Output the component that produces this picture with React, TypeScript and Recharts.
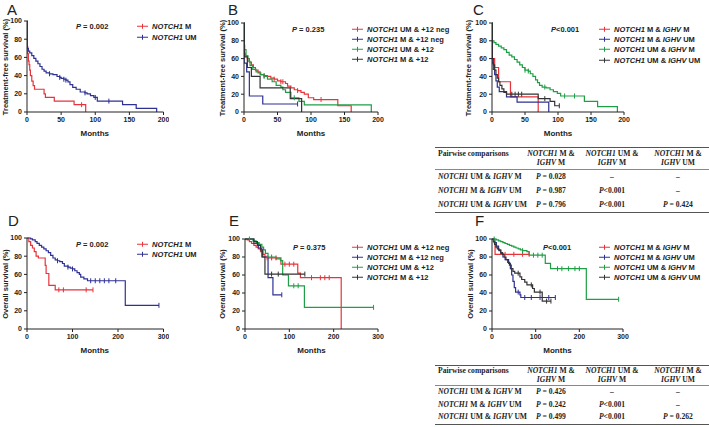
import React from 'react';
import { LineChart, Line, XAxis, YAxis } from 'recharts';

// each point: [months, survival %, 1 if censored]
type Pt = number[];

const tfsTicks = [0, 50, 100, 150, 200];
const osTicks = [0, 100, 200, 300];
const pctTicks = [0, 20, 40, 60, 80, 100];

const namesA = ['NOTCH1 M', 'NOTCH1 UM'];
const namesB = ['NOTCH1 UM & +12 neg', 'NOTCH1 M & +12 neg', 'NOTCH1 UM & +12', 'NOTCH1 M & +12'];
const namesC = ['NOTCH1 M & IGHV M', 'NOTCH1 M & IGHV UM', 'NOTCH1 UM & IGHV M', 'NOTCH1 UM & IGHV UM'];

// A - treatment-free survival
const aMut: Pt[] = [[0, 100], [0.3, 72], [1, 64], [2, 56], [3, 52], [4, 46], [5, 40], [7, 34], [9, 29], [11, 25], [25, 20], [27, 16], [40, 12], [69, 8], [80, 8, 1], [86, 0]];
const aUnm: Pt[] = [[0, 100], [0.3, 70], [2, 67], [4, 65], [7, 62], [10, 59], [13, 56], [16, 53], [19, 50], [22, 47], [25, 45], [28, 43], [33, 42, 1], [38, 41], [44, 39], [48, 38, 1], [50, 37], [54, 36, 1], [57, 35, 1], [60, 33], [63, 30], [67, 27], [72, 25], [78, 22], [85, 21, 1], [88, 20], [93, 18], [98, 16], [100, 16, 1], [103, 12], [120, 12, 1], [140, 8], [160, 4], [190, 0]];

// B
const bUmNeg: Pt[] = [[0, 100], [0.3, 66], [2, 63], [5, 60], [8, 56], [11, 53], [14, 50], [17, 47], [21, 44], [25, 42], [30, 41, 1], [35, 40], [40, 38], [45, 37, 1], [50, 35], [55, 34, 1], [58, 34, 1], [62, 32], [65, 29], [70, 27], [75, 25], [80, 24, 1], [85, 22], [90, 20], [96, 16], [104, 14], [115, 14, 1], [140, 7], [160, 0]];
const bMNeg: Pt[] = [[0, 100], [0.3, 55], [4, 45], [8, 18], [28, 9], [80, 9, 1]];
const bUmPos: Pt[] = [[0, 100], [0.3, 75], [1, 70], [3, 63], [6, 57], [9, 52], [13, 48], [18, 45], [24, 42], [30, 40, 1], [35, 37], [42, 34], [48, 30], [55, 28], [58, 25], [62, 22], [70, 16], [75, 16, 1], [82, 12], [90, 8], [190, 0]];
const bMPos: Pt[] = [[0, 100], [0.3, 62], [5, 50], [11, 40], [24, 27], [69, 15], [86, 0]];

// C
const cMM: Pt[] = [[0, 100], [0.3, 60], [4, 50], [10, 34], [28, 17], [70, 0]];
const cMUm: Pt[] = [[0, 100], [0.3, 55], [2, 48], [4, 42], [6, 35], [8, 28], [11, 23], [22, 17], [38, 11], [86, 0]];
const cUmM: Pt[] = [[0, 100], [0.3, 80], [3, 78], [6, 76], [10, 74], [14, 72], [18, 70], [22, 67], [26, 64], [30, 62], [34, 59], [38, 56], [42, 53], [46, 50], [50, 47, 1], [52, 47], [55, 46, 1], [58, 43], [62, 40], [66, 36], [69, 33], [72, 30], [76, 28], [80, 28, 1], [82, 27], [88, 25], [93, 23], [99, 21], [104, 18], [110, 18, 1], [125, 18, 1], [140, 12], [160, 6], [190, 0]];
const cUmUm: Pt[] = [[0, 100], [0.3, 60], [2, 53], [4, 47], [6, 42], [8, 38], [10, 34], [12, 30], [15, 26], [18, 22], [22, 20], [30, 20, 1], [35, 20, 1], [40, 20, 1], [45, 20, 1], [70, 15], [80, 15, 1], [88, 12], [95, 7], [102, 7, 1]];

// D - overall survival
const dMut: Pt[] = [[0, 100], [4, 96], [8, 92], [12, 89], [16, 85], [20, 80], [25, 78], [40, 70], [42, 61], [48, 48], [62, 43], [70, 43, 1], [80, 43, 1], [130, 43, 1], [145, 43, 1]];
const dUnm: Pt[] = [[0, 100], [8, 99], [12, 98], [18, 96], [22, 94], [27, 92], [32, 90], [37, 88], [42, 86], [47, 84], [52, 81], [57, 78], [62, 76], [67, 75, 1], [72, 74], [78, 72], [82, 69], [90, 68, 1], [95, 67], [100, 66, 1], [105, 64], [110, 62], [115, 60], [118, 57], [125, 55], [133, 53], [140, 53, 1], [150, 53, 1], [160, 53, 1], [170, 53, 1], [180, 53, 1], [195, 53, 1], [216, 26], [290, 26, 1]];

// E
const eUmNeg: Pt[] = [[0, 100], [5, 99], [10, 97], [15, 95], [20, 93], [25, 91], [30, 89], [35, 86], [40, 83], [45, 80], [50, 79, 1], [60, 79, 1], [70, 79, 1], [81, 72], [90, 72, 1], [100, 72, 1], [110, 72, 1], [119, 62], [125, 57], [150, 57, 1], [170, 57, 1], [180, 57, 1], [190, 57, 1], [217, 0]];
const eMNeg: Pt[] = [[0, 100], [20, 95], [30, 90], [38, 80], [52, 57], [63, 38], [83, 38, 1]];
const eUmPos: Pt[] = [[0, 100], [10, 100, 1], [18, 98], [25, 96], [32, 94], [38, 91], [42, 88], [46, 84], [52, 80], [60, 80, 1], [70, 78], [80, 76], [85, 60], [98, 48], [110, 48, 1], [120, 48, 1], [134, 24], [290, 24, 1]];
const eMPos: Pt[] = [[0, 100], [20, 97], [28, 93], [35, 88], [40, 80], [45, 61], [60, 61, 1], [75, 61, 1], [135, 61, 1]];

// F
const fMM: Pt[] = [[0, 100], [7, 83], [30, 83, 1], [50, 83, 1], [70, 83, 1], [85, 83, 1]];
const fMUm: Pt[] = [[0, 100], [5, 96], [10, 92], [15, 88], [20, 84], [25, 80], [30, 77], [38, 73], [42, 67], [45, 60], [48, 53], [51, 46], [54, 41], [60, 41, 1], [64, 38], [66, 35], [75, 35, 1], [90, 35, 1], [110, 35, 1], [130, 35, 1], [145, 35, 1]];
const fUmM: Pt[] = [[0, 100], [5, 100, 1], [10, 99], [15, 98], [20, 97], [25, 96], [30, 95], [35, 94], [40, 93], [45, 92], [50, 91], [55, 90], [60, 89], [65, 88], [70, 87, 1], [75, 87], [80, 86], [85, 82], [95, 82, 1], [105, 82, 1], [115, 82, 1], [122, 73], [134, 67], [150, 67, 1], [160, 67, 1], [175, 67, 1], [190, 67, 1], [200, 67, 1], [216, 33], [290, 33, 1]];
const fUmUm: Pt[] = [[0, 100], [3, 97], [6, 94], [9, 91], [12, 89], [16, 87], [20, 85], [24, 83], [28, 80], [32, 77], [36, 74], [40, 71], [44, 67], [48, 64], [52, 62], [60, 62, 1], [64, 58], [68, 55], [75, 52], [80, 49], [90, 49, 1], [93, 45], [97, 41], [110, 41, 1], [115, 31], [125, 31, 1], [135, 31, 1]];

const tableHead = ['NOTCH1 M &|IGHV M', 'NOTCH1 UM &|IGHV M', 'NOTCH1 M &|IGHV UM'];
const tableRowNames = ['NOTCH1 UM & IGHV M', 'NOTCH1 M & IGHV UM', 'NOTCH1 UM & IGHV UM'];
const tableTfs = [['P = 0.028', '–', '–'], ['P = 0.987', 'P<0.001', '–'], ['P = 0.796', 'P<0.001', 'P = 0.424']];
const tableOs = [['P = 0.426', '–', '–'], ['P = 0.242', 'P<0.001', '–'], ['P = 0.499', 'P<0.001', 'P = 0.262']];

const RED = '#e8333a';
const BLUE = '#2e3192';
const GREEN = '#1f9e45';
const BLACK = '#333333';
const colors4 = [RED, BLUE, GREEN, BLACK];
const SANS = '"Liberation Sans", Arial, sans-serif';
const SERIF = '"Liberation Serif", "Times New Roman", serif';

const toRows = (pts: Pt[]) => pts.map(p => ({ t: p[0], s: p[1], c: p[2] || 0 }));

// italic gene / stat names
const fmt = (s: string) =>
  s.split(/(NOTCH1|IGHV|P)/).map((part, i) =>
    part === 'NOTCH1' || part === 'IGHV' || part === 'P' ? <i key={i}>{part}</i> : <span key={i}>{part}</span>
  );

const censor = (color: string) => (p: any) =>
  p.payload && p.payload.c ? (
    <line key={`c${p.index}`} x1={p.cx} x2={p.cx} y1={p.cy - 2.5} y2={p.cy + 2.5} stroke={color} strokeWidth={1} />
  ) : (
    <g key={`n${p.index}`} />
  );

interface PanelProps {
  letter: string; letterX: number; letterY: number;
  l: number; t: number; r: number; b: number;
  xMax: number; xTicks: number[];
  yLabel: string; yLabelX: number;
  series: Pt[][]; names: string[]; colors: string[];
  pText: string; pX: number; pY: number;
  legX: number; legY: number[];
}

function Panel(p: PanelProps) {
  const padL = 30, padT = 6, padR = 6, xh = 18;
  const axisStyle = { fontSize: 7, fill: '#222', fontWeight: 'bold', fontFamily: SANS };
  const textBase: React.CSSProperties = { position: 'absolute', whiteSpace: 'nowrap', fontFamily: SANS, fontWeight: 'bold', fontSize: 7.5, color: '#222' };
  return (
    <>
      <div style={{ position: 'absolute', left: p.letterX, top: p.letterY, fontFamily: SANS, fontSize: 15, color: '#222', lineHeight: 1 }}>
        {p.letter}
      </div>
      <div style={{ position: 'absolute', left: p.l - padL, top: p.t - padT }}>
        <LineChart width={p.r - p.l + padL + padR} height={p.b - p.t + padT + xh} margin={{ top: padT, right: padR, bottom: 0, left: 0 }}>
          <XAxis type="number" dataKey="t" domain={[0, p.xMax]} ticks={p.xTicks} interval={0} height={xh}
            tick={axisStyle} tickSize={3} tickMargin={2} stroke="#222" allowDataOverflow />
          <YAxis type="number" domain={[0, 100]} ticks={pctTicks} interval={0} width={padL}
            tick={axisStyle} tickSize={3} tickMargin={2} stroke="#222" />
          {p.series.map((pts, i) => (
            <Line key={i} data={toRows(pts)} dataKey="s" type="stepAfter" stroke={p.colors[i]} strokeWidth={1.2}
              dot={censor(p.colors[i])} activeDot={false} isAnimationActive={false} />
          ))}
        </LineChart>
      </div>
      <div style={{ ...textBase, left: p.yLabelX, top: (p.t + p.b) / 2, transform: 'translate(-50%, -50%) rotate(-90deg)' }}>
        {p.yLabel}
      </div>
      <div style={{ ...textBase, fontSize: 8, left: (p.l + p.r) / 2, top: p.b + 21, transform: 'translate(-50%, -50%)' }}>
        Months
      </div>
      <div style={{ ...textBase, left: p.pX, top: p.pY, transform: 'translateY(-50%)' }}>
        {fmt(p.pText)}
      </div>
      {p.names.map((n, i) => (
        <div key={n} style={{ ...textBase, left: p.legX, top: p.legY[i], transform: 'translateY(-50%)', lineHeight: '9px' }}>
          <svg width={11} height={6} style={{ marginRight: 4, verticalAlign: 'middle' }}>
            <line x1={0} x2={11} y1={3} y2={3} stroke={p.colors[i]} strokeWidth={1.2} />
            <line x1={5.5} x2={5.5} y1={0.5} y2={5.5} stroke={p.colors[i]} strokeWidth={1} />
          </svg>
          <span style={{ verticalAlign: 'middle' }}>{fmt(n)}</span>
        </div>
      ))}
    </>
  );
}

function PairTable({ top, rows, headH, headPad, rowH }: { top: number; rows: string[][]; headH: number; headPad: number; rowH: number }) {
  const cell: React.CSSProperties = { padding: 0, textAlign: 'center', height: rowH, verticalAlign: 'middle', whiteSpace: 'nowrap' };
  const widths = [90, 52, 70, 62];
  return (
    <table style={{ position: 'absolute', left: 435, top, width: 274, borderCollapse: 'collapse', tableLayout: 'fixed', fontFamily: SERIF, fontWeight: 'bold', fontSize: 7.6, color: '#222', lineHeight: '8.5px' }}>
      <colgroup>{widths.map((w, i) => <col key={i} style={{ width: w }} />)}</colgroup>
      <thead>
        <tr style={{ borderTop: '1.5px solid #555', borderBottom: '0.8px solid #888' }}>
          <th style={{ textAlign: 'left', paddingLeft: 3, verticalAlign: 'top', paddingTop: headPad, height: headH - headPad, boxSizing: 'content-box', whiteSpace: 'nowrap' }}>Pairwise comparisons</th>
          {tableHead.map(h => (
            <th key={h} style={{ verticalAlign: 'top', paddingTop: headPad, fontWeight: 'bold', whiteSpace: 'nowrap' }}>
              {h.split('|').map((ln, j) => <div key={j}>{fmt(ln)}</div>)}
            </th>
          ))}
        </tr>
      </thead>
      <tbody>
        {rows.map((r, i) => (
          <tr key={i} style={i === rows.length - 1 ? { borderBottom: '1.5px solid #555' } : undefined}>
            <td style={{ ...cell, textAlign: 'left', paddingLeft: 3 }}>{fmt(tableRowNames[i])}</td>
            {r.map((v, j) => <td key={j} style={cell}>{fmt(v)}</td>)}
          </tr>
        ))}
      </tbody>
    </table>
  );
}

export default function App() {
  const tfs = 'Treatment-free survival (%)';
  const os = 'Overall survival (%)';
  return (
    <div style={{ position: 'relative', width: 709, height: 427, background: '#fff', overflow: 'hidden' }}>
      <style>{'body{margin:0}'}</style>
      <Panel letter="A" letterX={7} letterY={2} l={26.5} t={21} r={163} b={112} xMax={200} xTicks={tfsTicks} yLabel={tfs} yLabelX={5}
        series={[aMut, aUnm]} names={namesA} colors={[RED, BLUE]} pText="P = 0.002" pX={76} pY={26} legX={137} legY={[26, 37]} />
      <Panel letter="B" letterX={228} letterY={2} l={244} t={23} r={378} b={112} xMax={200} xTicks={tfsTicks} yLabel={tfs} yLabelX={222}
        series={[bUmNeg, bMNeg, bUmPos, bMPos]} names={namesB} colors={colors4} pText="P = 0.235" pX={292} pY={29} legX={352} legY={[29, 39, 49, 59]} />
      <Panel letter="C" letterX={473} letterY={2} l={492} t={23} r={624} b={112} xMax={200} xTicks={tfsTicks} yLabel={tfs} yLabelX={468}
        series={[cMM, cMUm, cUmM, cUmUm]} names={namesC} colors={colors4} pText="P<0.001" pX={551} pY={29} legX={599} legY={[29, 39, 49, 60]} />
      <Panel letter="D" letterX={8} letterY={213} l={26.5} t={238} r={163} b={329} xMax={300} xTicks={osTicks} yLabel={os} yLabelX={5}
        series={[dMut, dUnm]} names={namesA} colors={[RED, BLUE]} pText="P = 0.002" pX={76} pY={244} legX={137} legY={[244, 254]} />
      <Panel letter="E" letterX={229} letterY={213} l={245} t={239} r={378} b={329} xMax={300} xTicks={osTicks} yLabel={os} yLabelX={222}
        series={[eUmNeg, eMNeg, eUmPos, eMPos]} names={namesB} colors={colors4} pText="P = 0.375" pX={293} pY={247} legX={352} legY={[247, 257, 267, 277]} />
      <Panel letter="F" letterX={475} letterY={213} l={492} t={239} r={623} b={329} xMax={300} xTicks={osTicks} yLabel={os} yLabelX={470}
        series={[fMM, fMUm, fUmM, fUmUm]} names={namesC} colors={colors4} pText="P<0.001" pX={543} pY={247} legX={599} legY={[247, 257, 267, 277]} />
      <PairTable top={147} rows={tableTfs} headH={20} headPad={2} rowH={14} />
      <PairTable top={365} rows={tableOs} headH={18} headPad={1} rowH={12.5} />
    </div>
  );
}
